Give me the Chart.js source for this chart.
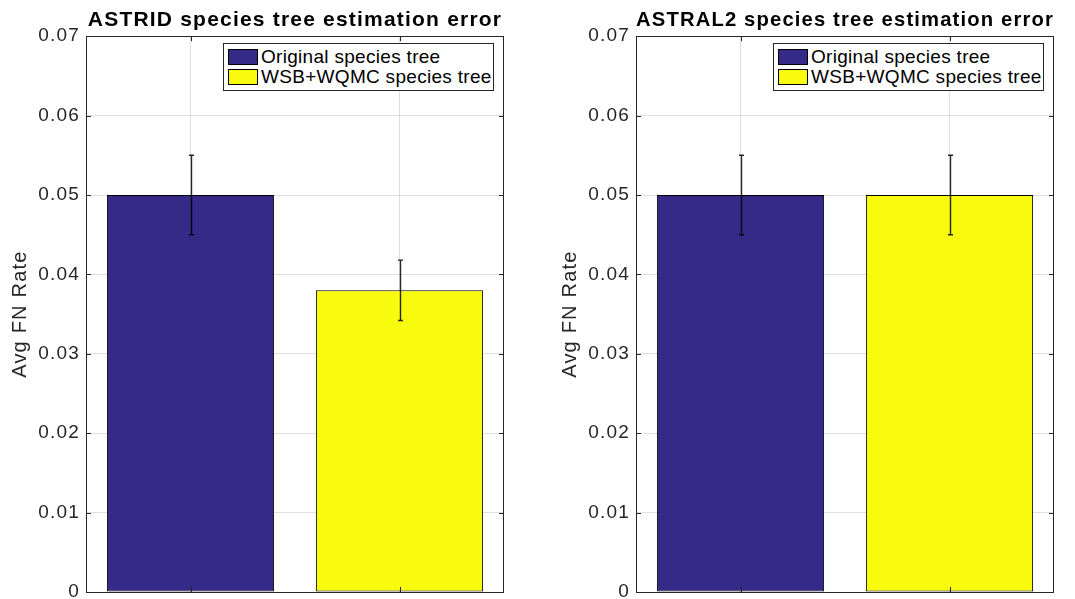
<!DOCTYPE html>
<html>
<head>
<meta charset="utf-8">
<script src="https://cdn.jsdelivr.net/npm/chart.js@4/dist/chart.umd.min.js"></script>
<style>
  html, body { margin: 0; padding: 0; background: #fff; width: 1075px; height: 599px; overflow: hidden; }
  .panel { position: absolute; top: 0; height: 599px; }
  .panel canvas { display: block; }
  .legend {
    position: absolute; box-sizing: border-box; width: 271px;
    background: #fff; border: 1px solid #262626;
    font: 19px "Liberation Sans", Arial, Helvetica, sans-serif; color: #000;
    letter-spacing: 0.3px;
    padding: 3px 4px 3px 4px; white-space: nowrap;
  }
  .legend .row { display: flex; align-items: center; height: 20px; }
  .legend .sw { box-sizing: border-box; width: 30px; height: 16px; border: 1px solid #000; margin-right: 3px; flex: none; }
</style>
</head>
<body>
<div class="panel" id="p1" style="left:0;width:540px"><canvas id="c1" width="540" height="599"></canvas></div>
<div class="panel" id="p2" style="left:550px;width:525px"><canvas id="c2" width="525" height="599"></canvas></div>
<script>
// Bar groups: one bar per species-tree source
const categories = ['Original', 'WSB+WQMC'];
const seriesNames = ['Original species tree', 'WSB+WQMC species tree'];
const seriesColors = ['#352a87', '#f9fb0e'];

// Average false-negative rate and error-bar half-widths
const astridValues = [0.050, 0.038];
const astridErrors = [0.005, 0.0038];
const astral2Values = [0.050, 0.050];
const astral2Errors = [0.005, 0.005];

const yTickLabels = ['0', '0.01', '0.02', '0.03', '0.04', '0.05', '0.06', '0.07'];
const yAxisTitle = 'Avg FN Rate';
const titles = ['ASTRID species tree estimation error', 'ASTRAL2 species tree estimation error'];

const FONT = '"Liberation Sans", Arial, Helvetica, sans-serif';
const AXIS = '#262626';
const GRID = 'rgba(38,38,38,0.15)';

// Slightly wider tracking for canvas text
const tracking = {
  id: 'tracking',
  beforeUpdate(c) { c.ctx.letterSpacing = '1.2px'; },
  beforeLayout(c) { c.ctx.letterSpacing = '1.2px'; },
  beforeDraw(c) { c.ctx.letterSpacing = '1.2px'; }
};

// Error bars, axes box and inward tick marks
const decorations = {
  id: 'decorations',
  afterDatasetsDraw(chart) {
    const ctx = chart.ctx;
    const y = chart.scales.y, x = chart.scales.x;
    const a = chart.chartArea;
    ctx.save();
    // error bars
    ctx.strokeStyle = 'rgba(0,0,0,0.85)';
    ctx.lineWidth = 1.4;
    chart.data.datasets.forEach((ds, di) => {
      const meta = chart.getDatasetMeta(di);
      ds.data.forEach((v, j) => {
        if (v === null) return;
        const bar = meta.data[j];
        const e = ds.errorBars[j];
        const px = Math.round(bar.x) + 0.5;
        const yt = y.getPixelForValue(v + e);
        const yb = y.getPixelForValue(v - e);
        ctx.beginPath();
        ctx.moveTo(px, yt); ctx.lineTo(px, yb);
        ctx.moveTo(px - 2.5, yt); ctx.lineTo(px + 2.5, yt);
        ctx.moveTo(px - 2.5, yb); ctx.lineTo(px + 2.5, yb);
        ctx.stroke();
      });
    });
    // box
    ctx.strokeStyle = AXIS;
    ctx.lineWidth = 1;
    ctx.strokeRect(Math.round(a.left) + 0.5, Math.round(a.top) + 0.5,
                   Math.round(a.right - a.left) - 1, Math.round(a.bottom - a.top));
    // inward ticks
    const L = 5;
    ctx.beginPath();
    y.ticks.forEach(t => {
      const py = Math.round(y.getPixelForValue(t.value)) + 0.5;
      ctx.moveTo(a.left, py); ctx.lineTo(a.left + L, py);
      ctx.moveTo(a.right, py); ctx.lineTo(a.right - L, py);
    });
    categories.forEach((_, i) => {
      const px = Math.round(x.getPixelForValue(i)) + 0.5;
      ctx.moveTo(px, a.bottom); ctx.lineTo(px, a.bottom - L);
      ctx.moveTo(px, a.top); ctx.lineTo(px, a.top + L);
    });
    ctx.stroke();
    ctx.restore();
  }
};

function makeChart(canvasId, panelId, title, values, errors, padRight) {
  const chart = new Chart(document.getElementById(canvasId), {
    type: 'bar',
    data: {
      labels: categories,
      datasets: seriesNames.map((name, i) => ({
        label: name,
        data: categories.map((_, j) => (j === i ? values[j] : null)),
        errorBars: errors,
        backgroundColor: seriesColors[i],
        borderColor: '#000',
        borderWidth: 1,
        borderSkipped: false,
        barPercentage: 0.8,
        categoryPercentage: 1.0
      }))
    },
    options: {
      responsive: false,
      animation: false,
      devicePixelRatio: 1,
      skipNull: true,
      layout: { padding: { left: 0, right: padRight, top: 0, bottom: 0 } },
      plugins: {
        legend: { display: false },
        tooltip: { enabled: false },
        title: {
          display: true, text: title, fullSize: false, color: '#000',
          font: { family: FONT, size: 21, weight: 'bold' },
          padding: { top: 8, bottom: 3 }
        }
      },
      scales: {
        x: {
          type: 'category', offset: true,
          grid: { offset: false, color: GRID, drawTicks: false },
          border: { display: false },
          ticks: { display: false },
          afterFit(s) { s.height = 7; }
        },
        y: {
          min: 0, max: 0.07,
          grid: { color: GRID, drawTicks: false },
          border: { display: false },
          ticks: {
            stepSize: 0.01, padding: 6, color: AXIS,
            font: { family: FONT, size: 19 },
            callback: (v, i) => yTickLabels[i]
          },
          title: {
            display: true, text: yAxisTitle, color: AXIS,
            font: { family: FONT, size: 20 },
            padding: { top: 8, bottom: 0 }
          },
          afterFit(s) { s.width = 86; s.paddingTop = 0; s.paddingBottom = 0; }
        }
      }
    },
    plugins: [tracking, decorations]
  });

  // legend box inside the plot area, top right
  const a = chart.chartArea;
  const lg = document.createElement('div');
  lg.className = 'legend';
  chart.data.datasets.forEach(ds => {
    const row = document.createElement('div');
    row.className = 'row';
    const sw = document.createElement('span');
    sw.className = 'sw';
    sw.style.background = ds.backgroundColor;
    const tx = document.createElement('span');
    tx.textContent = ds.label;
    row.appendChild(sw); row.appendChild(tx);
    lg.appendChild(row);
  });
  lg.style.left = (a.right - 10 - 271) + 'px';
  lg.style.top = (a.top + 7) + 'px';
  document.getElementById(panelId).appendChild(lg);
  return chart;
}

makeChart('c1', 'p1', titles[0], astridValues, astridErrors, 36);
makeChart('c2', 'p2', titles[1], astral2Values, astral2Errors, 21);
</script>
</body>
</html>
